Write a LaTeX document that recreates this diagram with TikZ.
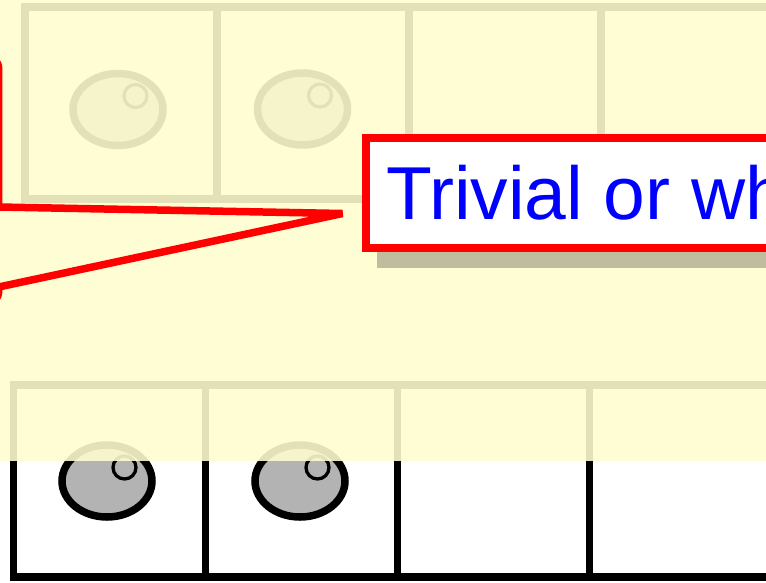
\documentclass[tikz,border=0pt]{standalone}
\usepackage{fontspec}
\setmainfont{Liberation Sans}
\usetikzlibrary{positioning,shapes.geometric,shadows}
\definecolor{hlYellow}{RGB}{255,253,207}
\definecolor{ballGray}{HTML}{B3B3B3}
\tikzset{
  % Square cell of a row
  cell/.style={rectangle,draw=black,fill=white,line width=7.5pt,
    minimum width=192pt,minimum height=192pt,inner sep=0pt,outer sep=0pt},
  % Grey ball in a cell
  ball/.style={ellipse,draw=black,fill=ballGray,line width=7.5pt,
    minimum width=90pt,minimum height=72pt,inner sep=0pt},
  % Small glint on a ball
  glint/.style={circle,draw=black,line width=3.3pt,
    minimum size=23pt,inner sep=0pt},
  % Remark box (red frame, blue text)
  remark/.style={rectangle,draw=red,line width=8pt,fill=white,text=blue,
    font=\fontsize{75}{90}\selectfont,minimum height=110pt,
    inner xsep=20pt,inner ysep=0pt,outer sep=0pt,
    drop shadow={shadow xshift=11pt,shadow yshift=-20pt,
      opacity=0.25,fill=black}},
  % Callout outline
  pointer/.style={draw=red,line width=7.5pt,line join=bevel},
}

\begin{document}
\begin{tikzpicture}[x=1pt,y=-1pt]
  \useasboundingbox (0,0) rectangle (766,582);
  \fill[white] (0,0) rectangle (766,582);
  \clip (0,0) rectangle (766,582);

  %% --- TOP ROW ---
  \node[cell] (t1) at (121,103) {};
  \node[cell,right=0pt of t1] (t2) {};
  \node[cell,right=0pt of t2] (t3) {};
  \node[cell,right=0pt of t3] (t4) {};

  \node[ball] (tb1) at ([shift={(-3,6.5)}]t1.center) {};
  \node[ball] (tb2) at ([shift={(-10.5,6)}]t2.center) {};
  \node[glint] at ([shift={(17.5,-13.5)}]tb1.center) {};
  \node[glint] at ([shift={(17.5,-13.5)}]tb2.center) {};

  %% --- BOTTOM ROW ---
  \node[cell] (b1) at (109.5,481) {};
  \node[cell,right=0pt of b1] (b2) {};
  \node[cell,right=0pt of b2] (b3) {};
  \node[cell,right=0pt of b3] (b4) {};

  \node[ball] (bb1) at ([shift={(-2.5,0)}]b1.center) {};
  \node[ball] (bb2) at ([shift={(-1.5,0)}]b2.center) {};
  \node[glint] at ([shift={(17.5,-13.5)}]bb1.center) {};
  \node[glint] at ([shift={(17.5,-13.5)}]bb2.center) {};

  % Yellow highlight over the upper part
  \fill[hlYellow,opacity=0.89] (0,0) rectangle (766,461);

  %% --- CALLOUT ---
  \coordinate (tip) at (342.5,213.5);
  \draw[pointer,rounded corners=10pt] (-300,58) -- (-1.3,58) -- (-1.3,150)
    [sharp corners] -- (-1.3,207) -- (tip) -- (-1.3,287) -- (-1.3,290)
    [rounded corners=10pt] -- (-1.3,302) -- (-300,302);

  \node[remark,anchor=west] (trivial) at (366,193) {Trivial or wh};
\end{tikzpicture}
\end{document}
